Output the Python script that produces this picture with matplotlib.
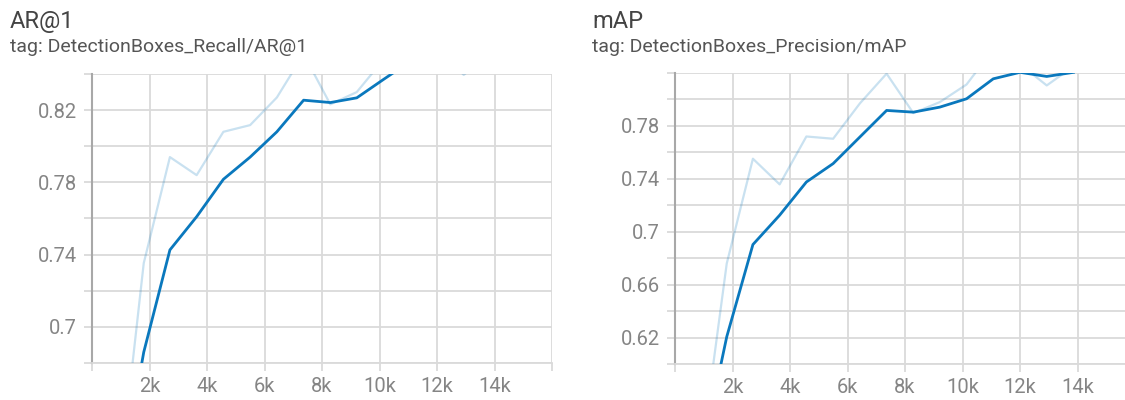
import numpy as np
import matplotlib
matplotlib.use('Agg')
import matplotlib.pyplot as plt

plt.rcParams['font.family'] = ['Roboto', 'DejaVu Sans']

# training steps where the evaluation was run
steps = [870, 1800, 2710, 3640, 4570, 5500, 6430, 7360, 8290, 9210, 10140, 11070, 12000, 12930, 13860]

# AR@1 (raw and smoothed)
ar1_raw = [0.603, 0.7353, 0.794, 0.784, 0.808, 0.8117, 0.827, 0.851, 0.8232, 0.830, 0.848, 0.858, 0.855, 0.8395, 0.852]
ar1_smooth = [0.603, 0.686, 0.7426, 0.761, 0.7817, 0.794, 0.808, 0.8255, 0.8242, 0.8268, 0.837, 0.847, 0.850, 0.847, 0.849]

# mAP (raw and smoothed)
map_raw = [0.525, 0.676, 0.7552, 0.7358, 0.772, 0.7703, 0.797, 0.8195, 0.7897, 0.798, 0.8113, 0.838, 0.8266, 0.8106, 0.825]
map_smooth = [0.525, 0.6206, 0.6903, 0.7125, 0.7376, 0.7515, 0.7716, 0.7917, 0.7904, 0.7942, 0.8005, 0.8156, 0.8205, 0.8174, 0.8205]

x_ticks = [0, 2000, 4000, 6000, 8000, 10000, 12000, 14000, 16000]
x_labels = ['', '2k', '4k', '6k', '8k', '10k', '12k', '14k', '']

ar1_yticks = [0.68, 0.70, 0.72, 0.74, 0.76, 0.78, 0.80, 0.82, 0.84]
ar1_ylabels = ['', '0.7', '', '0.74', '', '0.78', '', '0.82', '']
map_yticks = [0.60, 0.62, 0.64, 0.66, 0.68, 0.70, 0.72, 0.74, 0.76, 0.78, 0.80, 0.82]
map_ylabels = ['', '0.62', '', '0.66', '', '0.7', '', '0.74', '', '0.78', '', '']

line_col = '#0a78bd'
grid_col = '#dadada'
W, H = 1125, 400

fig = plt.figure(figsize=(11.25, 4), dpi=100)


def make_panel(rect, raw, smooth, yticks, ylabels, title, tag, tx):
    l, t, r, b = rect
    ax = fig.add_axes([l / W, (H - b) / H, (r - l) / W, (b - t) / H])
    ax.plot(steps, raw, color=line_col, alpha=0.22, lw=1.6, zorder=3)
    ax.plot(steps, smooth, color=line_col, lw=2.0, zorder=4)
    ax.set_xlim(0, 16000)
    ax.set_ylim(yticks[0], yticks[-1])
    ax.set_xticks(x_ticks)
    ax.set_xticklabels(x_labels)
    ax.set_yticks(yticks)
    ax.set_yticklabels(ylabels)
    ax.grid(True, color=grid_col, lw=1.3, zorder=0)
    for s in ['top', 'right']:
        ax.spines[s].set_visible(False)
    ax.spines['left'].set_color('#a8a8a8')
    ax.spines['left'].set_linewidth(1.5)
    ax.spines['bottom'].set_color(grid_col)
    ax.spines['bottom'].set_linewidth(1.3)
    ax.tick_params(axis='both', colors=grid_col, width=1.3, length=6,
                   labelcolor='#858585', labelsize=14.5)
    ax.tick_params(axis='y', pad=5)
    ax.tick_params(axis='x', pad=4)
    fig.text(tx / W, (H - 28) / H, title, fontsize=17, color='#444444', va='baseline')
    fig.text(tx / W, (H - 52) / H, tag, fontsize=14, color='#555555', va='baseline')
    return ax


make_panel((92, 74, 552, 363), ar1_raw, ar1_smooth, ar1_yticks, ar1_ylabels,
           'AR@1', 'tag: DetectionBoxes_Recall/AR@1', 10)
make_panel((675, 73, 1135, 364), map_raw, map_smooth, map_yticks, map_ylabels,
           'mAP', 'tag: DetectionBoxes_Precision/mAP', 592)

fig.savefig('out.png', dpi=100)
